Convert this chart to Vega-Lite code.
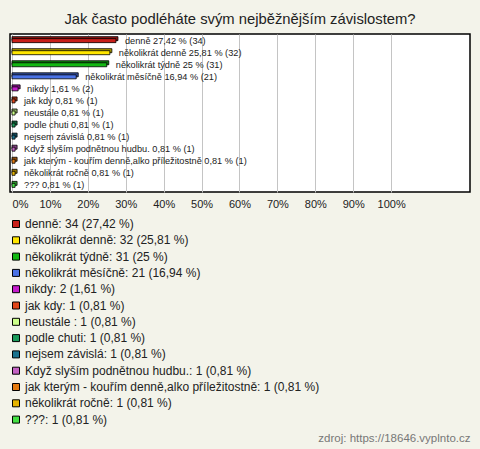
{
  "$schema": "https://vega.github.io/schema/vega-lite/v6.json",
  "autosize": "none",
  "width": 460,
  "height": 158,
  "padding": {"left": 10, "top": 34, "right": 10, "bottom": 257},
  "background": "#f3f3ea",
  "title": {
    "text": "Jak často podléháte svým nejběžnějším závislostem?",
    "font": "Liberation Sans",
    "fontSize": 14.8,
    "fontWeight": "normal",
    "color": "#222222",
    "anchor": "middle",
    "offset": 7
  },
  "config": {
    "view": {"stroke": "#000000", "strokeWidth": 1.5, "fill": "#ffffff"}
  },
  "data": {
    "values": [
      {"name": "denně", "pct": 27.42, "count": 34, "label": "denně 27,42 % (34)", "legend": "denně: 34 (27,42 %)"},
      {"name": "několikrát denně", "pct": 25.81, "count": 32, "label": "několikrát denně 25,81 % (32)", "legend": "několikrát denně: 32 (25,81 %)"},
      {"name": "několikrát týdně", "pct": 25, "count": 31, "label": "několikrát týdně 25 % (31)", "legend": "několikrát týdně: 31 (25 %)"},
      {"name": "několikrát měsíčně", "pct": 16.94, "count": 21, "label": "několikrát měsíčně 16,94 % (21)", "legend": "několikrát měsíčně: 21 (16,94 %)"},
      {"name": "nikdy", "pct": 1.61, "count": 2, "label": "nikdy 1,61 % (2)", "legend": "nikdy: 2 (1,61 %)"},
      {"name": "jak kdy", "pct": 0.81, "count": 1, "label": "jak kdy 0,81 % (1)", "legend": "jak kdy: 1 (0,81 %)"},
      {"name": "neustále ", "pct": 0.81, "count": 1, "label": "neustále  0,81 % (1)", "legend": "neustále : 1 (0,81 %)"},
      {"name": "podle chuti", "pct": 0.81, "count": 1, "label": "podle chuti 0,81 % (1)", "legend": "podle chuti: 1 (0,81 %)"},
      {"name": "nejsem závislá", "pct": 0.81, "count": 1, "label": "nejsem závislá 0,81 % (1)", "legend": "nejsem závislá: 1 (0,81 %)"},
      {"name": "Když slyším podnětnou hudbu.", "pct": 0.81, "count": 1, "label": "Když slyším podnětnou hudbu. 0,81 % (1)", "legend": "Když slyším podnětnou hudbu.: 1 (0,81 %)"},
      {"name": "jak kterým - kouřím denně,alko příležitostně", "pct": 0.81, "count": 1, "label": "jak kterým - kouřím denně,alko příležitostně 0,81 % (1)", "legend": "jak kterým - kouřím denně,alko příležitostně: 1 (0,81 %)"},
      {"name": "několikrát ročně", "pct": 0.81, "count": 1, "label": "několikrát ročně 0,81 % (1)", "legend": "několikrát ročně: 1 (0,81 %)"},
      {"name": "???", "pct": 0.81, "count": 1, "label": "??? 0,81 % (1)", "legend": "???: 1 (0,81 %)"}
    ]
  },
  "encoding": {
    "y": {
      "field": "name",
      "type": "nominal",
      "sort": null,
      "axis": null,
      "scale": {"paddingOuter": 0.05, "paddingInner": 0}
    },
    "x": {
      "field": "pct",
      "type": "quantitative",
      "scale": {"domain": [-0.53, 120.8], "nice": false, "zero": false},
      "axis": {
        "values": [0, 10, 20, 30, 40, 50, 60, 70, 80, 90, 100],
        "labelExpr": "datum.value + '%'",
        "grid": true,
        "gridColor": "#c4c4c4",
        "gridWidth": 1,
        "domain": false,
        "ticks": false,
        "labelFont": "Liberation Sans",
        "labelFontSize": 11,
        "labelColor": "#222222",
        "labelPadding": 6,
        "labelFlush": 5,
        "title": "zdroj: https://18646.vyplnto.cz",
        "titleFont": "Liberation Sans",
        "titleFontSize": 11.5,
        "titleFontWeight": "normal",
        "titleColor": "#777777",
        "titleAlign": "right",
        "titleAnchor": null,
        "titleBaseline": "middle",
        "titleX": 460,
        "titleY": 246
      }
    }
  },
  "layer": [
    {
      "mark": {"type": "bar", "size": 4, "xOffset": 2, "yOffset": -2, "stroke": "#000000", "strokeWidth": 0.8},
      "encoding": {
        "x2": {"datum": 0},
        "color": {
          "field": "legend",
          "type": "nominal",
          "scale": {
            "domain": ["denně: 34 (27,42 %)", "několikrát denně: 32 (25,81 %)", "několikrát týdně: 31 (25 %)", "několikrát měsíčně: 21 (16,94 %)", "nikdy: 2 (1,61 %)", "jak kdy: 1 (0,81 %)", "neustále : 1 (0,81 %)", "podle chuti: 1 (0,81 %)", "nejsem závislá: 1 (0,81 %)", "Když slyším podnětnou hudbu.: 1 (0,81 %)", "jak kterým - kouřím denně,alko příležitostně: 1 (0,81 %)", "několikrát ročně: 1 (0,81 %)", "???: 1 (0,81 %)"],
            "range": ["#c8201a", "#ffe600", "#12b812", "#4a72e6", "#c41ccc", "#e0461a", "#ccff8a", "#1a9a5a", "#1a728e", "#c462c4", "#e47a10", "#e6b400", "#44e044"]
          },
          "legend": {
            "orient": "none",
            "legendX": 0,
            "legendY": 184,
            "title": null,
            "padding": 0,
            "symbolType": "square",
            "symbolSize": 49,
            "symbolStrokeColor": "#000000",
            "symbolStrokeWidth": 1,
            "symbolOpacity": 1,
            "labelFont": "Liberation Sans",
            "labelFontSize": 12,
            "labelColor": "#222222",
            "labelOffset": 3,
            "labelLimit": 0,
            "rowPadding": 4.3
          }
        }
      }
    },
    {
      "mark": {"type": "bar", "size": 4, "xOffset": 2, "yOffset": -2, "color": "#000000", "opacity": 0.3},
      "encoding": {"x2": {"datum": 0}}
    },
    {
      "mark": {"type": "bar", "size": 4, "stroke": "#000000", "strokeWidth": 0.8, "opacity": 1},
      "encoding": {
        "x2": {"datum": 0},
        "color": {"field": "legend", "type": "nominal"}
      }
    },
    {
      "mark": {"type": "text", "align": "left", "baseline": "middle", "dx": 9, "font": "Liberation Sans", "fontSize": 9.2, "color": "#222222"},
      "encoding": {"text": {"field": "label"}}
    }
  ]
}
